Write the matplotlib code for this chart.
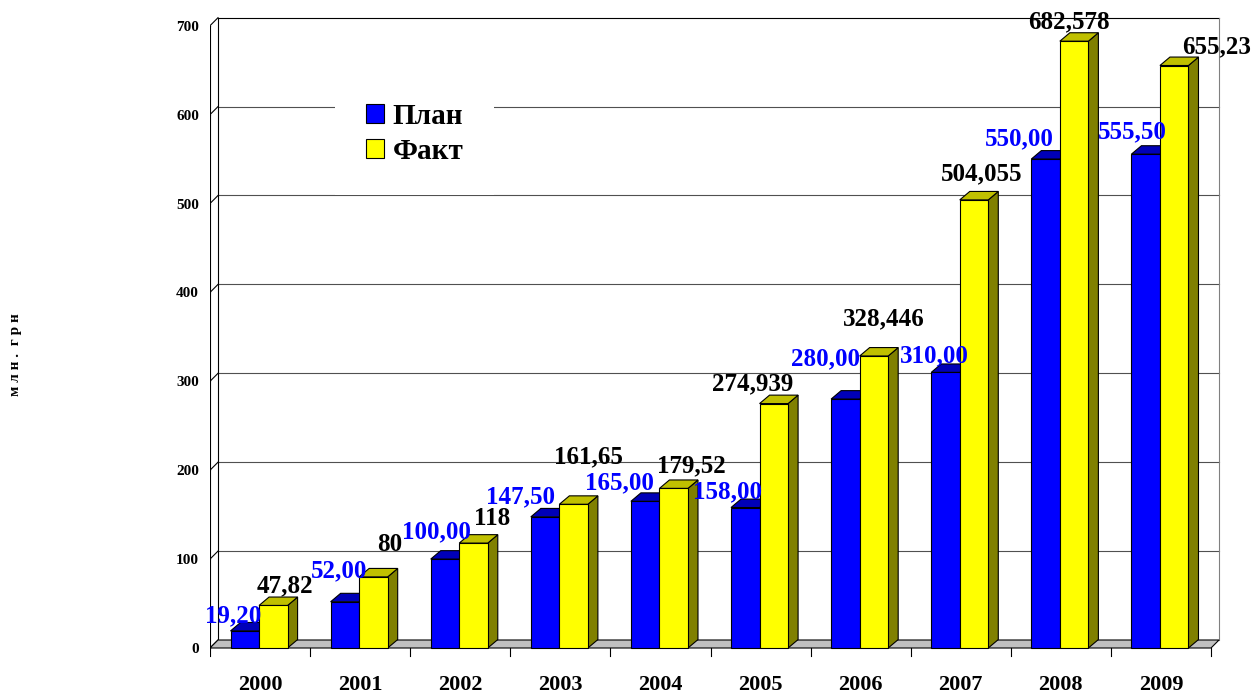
import numpy as np
import matplotlib
matplotlib.use("Agg")
import matplotlib.pyplot as plt
from matplotlib.patches import Polygon, Patch

plt.rcParams['font.family'] = ['Liberation Serif', 'DejaVu Serif']
plt.rcParams['font.weight'] = 'bold'

years = ['2000', '2001', '2002', '2003', '2004', '2005', '2006', '2007', '2008', '2009']
plan = [19.20, 52.00, 100.00, 147.50, 165.00, 158.00, 280.00, 310.00, 550.00, 555.50]
fact = [47.82, 80, 118, 161.65, 179.52, 274.939, 328.446, 504.055, 682.578, 655.23]
yticks = [0, 100, 200, 300, 400, 500, 600, 700]

# label shifts (pixels) from the top of each bar, hand placed like in the original
plan_off = [(-11.5, 8.5), (-6, 24.5), (-8.5, 20.5), (-24.5, 13.5), (-25.5, 12.5),
            (-17.5, 9), (-20, 33.5), (-10.7, 9.9), (-25.8, 13.5), (-13, 15.5)]
fact_off = [(11.5, 13), (16.4, 25.5), (18.3, 17.9), (15.2, 40.8), (18.1, 15.9),
            (-21, 13.5), (9.9, 30.5), (7.8, 19.5), (-5.3, 13.2), (42.6, 12)]

W, H = 1260, 695
x0, y0 = 210, 648          # pixel position of the front origin
ppx, ppy = 100.1, 0.889    # pixels per category / per unit
fig = plt.figure(figsize=(W / 100, H / 100), dpi=100)
ax = fig.add_axes([x0 / W, 0, 1 - x0 / W, 1])
ax.set_xlim(0, (W - x0) / ppx)
ax.set_ylim(-(H - y0) / ppy, y0 / ppy)
ax.axis('off')

n = len(years)
wdx, wdy = 0.08, 9      # wall depth
bdx, bdy = 0.1, 9.5     # bar depth
bw = 0.285
grid_c = '#505050'
lw = 0.8

# back wall grid
for v in yticks[1:-1]:
    ax.plot([wdx, n + wdx], [v + wdy] * 2, color=grid_c, lw=lw, zorder=1)
ax.plot([wdx, n + wdx], [yticks[-1] + wdy] * 2, color='k', lw=lw, zorder=1)
ax.plot([wdx, wdx], [wdy, yticks[-1] + wdy], color='k', lw=lw, zorder=1)
ax.plot([n + wdx, n + wdx], [wdy, yticks[-1] + wdy], color='#808080', lw=lw, zorder=1)

# left wall + y ticks
ax.plot([0, 0], [0, yticks[-1]], color='k', lw=lw, zorder=2)
for v in yticks:
    ax.plot([0, wdx], [v, v + wdy], color='k', lw=lw, zorder=2)
    ax.plot([-8 / ppx, 0], [v, v], color='k', lw=lw, zorder=2)
    ax.annotate(str(v), (0, v), xytext=(-11, -5), textcoords='offset pixels',
                ha='right', va='baseline', fontsize=11)

# floor
ax.add_patch(Polygon([(0, 0), (n, 0), (n + wdx, wdy), (wdx, wdy)],
                     fc='#c0c0c0', ec='k', lw=lw, zorder=2))
for k in range(n + 1):
    ax.plot([k, k], [0, -8 / ppy], color='k', lw=lw, zorder=2)


def bar3d(x, h, fc, tc, sc):
    ax.add_patch(Polygon([(x + bw, 0), (x + bw + bdx, bdy), (x + bw + bdx, h + bdy), (x + bw, h)],
                         fc=sc, ec='k', lw=lw, zorder=3))
    ax.add_patch(Polygon([(x, h), (x + bw, h), (x + bw + bdx, h + bdy), (x + bdx, h + bdy)],
                         fc=tc, ec='k', lw=lw, zorder=3))
    ax.add_patch(Polygon([(x, 0), (x + bw, 0), (x + bw, h), (x, h)],
                         fc=fc, ec='k', lw=lw, zorder=3))


for i in range(n):
    xb = i + 0.205
    xf = xb + bw
    bar3d(xb, plan[i], '#0000ff', '#0000b8', '#000080')
    bar3d(xf, fact[i], '#ffff00', '#c0c000', '#808000')
    ax.annotate(('%.2f' % plan[i]).replace('.', ','), (xb + bw / 2, plan[i]),
                xytext=plan_off[i], textcoords='offset pixels', ha='center', va='baseline',
                fontsize=18, color='#0000ff', zorder=5)
    ax.annotate(('%g' % fact[i]).replace('.', ','), (xf + bw / 2, fact[i]),
                xytext=fact_off[i], textcoords='offset pixels', ha='center', va='baseline',
                fontsize=18, color='k', zorder=5)
    ax.annotate(years[i], (i + 0.5, 0), xytext=(0, -42), textcoords='offset pixels',
                ha='center', va='baseline', fontsize=16)

handles = [Patch(fc='#0000ff', ec='k', lw=lw, label='План'),
           Patch(fc='#ffff00', ec='k', lw=lw, label='Факт')]
leg = ax.legend(handles=handles, loc='upper left', bbox_to_anchor=(335 / W, 1 - 72 / H),
                bbox_transform=fig.transFigure, fontsize=21, frameon=True, fancybox=False,
                framealpha=1, facecolor='white', edgecolor='white', handlelength=0.62,
                handleheight=0.62, handletextpad=0.3, labelspacing=0.28, borderpad=1.05,
                borderaxespad=0)
leg.get_frame().set_linewidth(0)
leg.set_zorder(4)

fig.text(16 / W, 1 - 355 / H, 'м л н .  г р н', rotation=90, fontsize=11,
         ha='center', va='center')

plt.savefig('out.png', dpi=100)
